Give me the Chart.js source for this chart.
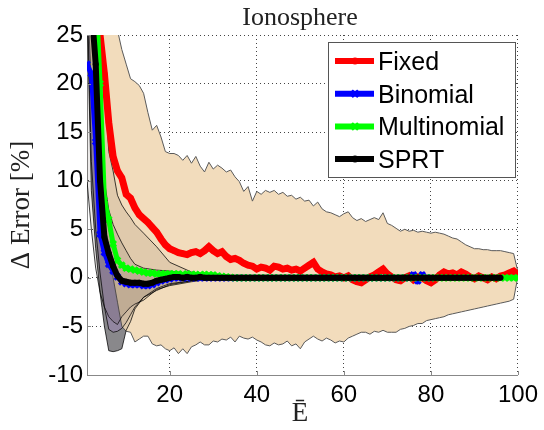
<!DOCTYPE html>
<html>
<head>
<meta charset="utf-8">
<script src="https://cdn.jsdelivr.net/npm/chart.js@4.4.1/dist/chart.umd.min.js"></script>
<style>
  html, body { margin: 0; padding: 0; background: #fff; }
  #wrap { width: 544px; height: 430px; }
</style>
</head>
<body>
<div id="wrap"><canvas id="chart" width="544" height="430"></canvas></div>
<script>
// Ionosphere: Delta Error [%] against mean number of evaluated members (E bar)

const chartTitle = 'Ionosphere';
const xTitle = 'Ē';
const yTitle = 'Δ Error [%]';
const xTicks = [20, 40, 60, 80, 100];
const yTicks = [-10, -5, 0, 5, 10, 15, 20, 25];
const seriesNames = ['Fixed', 'Binomial', 'Multinomial', 'SPRT'];

// E = 1 .. 100
const E = Array.from({ length: 100 }, (_, i) => i + 1);

const fixed = [
  48, 38, 30, 25, 21, 16, 12.5, 11, 10.3, 8.6,
  8.2, 7.2, 6.5, 6.1, 5.7, 5.2, 4.7, 4.0, 3.4, 3.0,
  2.8, 2.6, 2.5, 2.4, 2.6, 2.7, 2.5, 2.8, 3.2, 2.8,
  2.5, 2.7, 2.2, 1.9, 2.0, 1.8, 1.5, 1.3, 1.2, 0.9,
  1.1, 1.0, 0.8, 1.2, 1.1, 0.9, 1.0, 0.8, 0.9, 0.7,
  1.0, 1.3, 1.6, 0.9, 0.6, 0.4, 0.3, 0.1, 0.2, 0.0,
  0.2, -0.2, -0.4, -0.5, -0.2, 0.1, 0.3, 0.6, 0.9, 0.4,
  0.1, -0.2, -0.3, 0.0, 0.2, -0.2, 0.1, 0.0, -0.3, -0.5,
  -0.2, 0.3, 0.6, 0.4, 0.5, 0.3, 0.6, 0.4, 0.1, -0.1,
  0.2, 0.0, -0.2, 0.1, -0.1, 0.2, 0.3, 0.5, 0.7, 0.3
];
const fixedUpper = [
  60, 55, 48, 42, 36, 31, 27.5, 25.5, 23.5, 22,
  20.5, 20.2, 19.8, 19, 17, 15.2, 15.7, 14.5, 13, 12.8,
  12.8, 12.6, 12.1, 12.6, 11.8, 12.5, 11.5, 10.9, 11.9, 11.2,
  11.6, 11.3, 10.9, 11.1, 10.4, 9.9, 8.9, 9.4, 7.9, 8.9,
  8.6, 9.0, 8.8, 9.0, 8.6, 8.8, 8.4, 8.5, 8.1, 8.3,
  7.9, 8.0, 7.4, 7.8, 7.1, 6.8, 6.7, 6.5, 6.3, 6.6,
  6.8, 6.2, 5.9, 6.1, 5.8, 6.0, 6.2, 6.0, 6.7, 5.6,
  5.4, 5.1, 4.8, 5.0, 4.8, 4.9, 4.7, 4.8, 4.7, 4.6,
  4.7, 4.6, 4.5, 4.3, 4.1, 4.0, 3.7, 3.4, 3.2, 3.0,
  3.0, 2.9, 2.9, 2.8, 2.8, 2.8, 2.7, 2.6, 2.5, 0.6
];
const fixedLower = [
  30, 20, 13, 9, 5, 2.5, 0, -2.5, -5.0, -5.5,
  -5.6, -6.6, -6.3, -6.0, -6.0, -6.8, -7.0, -6.9, -7.3, -7.5,
  -7.2, -7.8, -7.3, -7.8, -7.1, -6.9, -6.6, -6.9, -6.9, -6.5,
  -6.6, -6.3, -6.4, -6.1, -6.6, -6.0, -6.2, -6.3, -6.1, -6.4,
  -6.6, -6.9, -7.0, -6.7, -6.9, -6.8, -6.5, -7.0, -6.8, -7.3,
  -6.6, -6.3, -6.0, -6.3, -6.5, -6.2, -6.4, -6.7, -6.5, -6.6,
  -6.2, -6.0, -5.8, -5.6, -5.6, -5.8, -5.5, -5.6, -5.4, -5.6,
  -5.6, -5.6, -5.3, -5.2, -5.0, -4.9, -4.7, -4.7, -4.4, -4.3,
  -4.2, -4.1, -4.0, -3.8, -3.7, -3.6, -3.5, -3.4, -3.3, -3.2,
  -3.1, -3.0, -2.9, -2.8, -2.7, -2.6, -2.5, -2.4, -2.2, 0.2
];

// E = 1 .. 80
const binomial = [
  22, 21, 14, 4.5, 2.6, 1.4, 0.7, 0.1, -0.4, -0.6,
  -0.7, -0.7, -0.7, -0.8, -0.8, -0.7, -0.5, -0.3, -0.2, -0.1,
  0, 0, 0, 0, 0, 0, 0, 0, 0, 0,
  0, 0, 0, 0, 0, 0, 0, 0, 0, 0,
  0, 0, 0, 0, 0, 0, 0, 0, 0, 0,
  0, 0, 0, 0, 0, 0, 0, 0, 0, 0,
  0, 0, 0, 0, 0, 0, 0, 0, 0, 0,
  0, 0, 0, 0, 0, 0.3, -0.3, 0.3, 0, 0
];

// E = 1 .. 100
const multinomial = [
  40, 33, 30, 20, 8, 6, 3.5, 1.8, 1.3, 1.0,
  0.9, 0.8, 0.7, 0.6, 0.5, 0.5, 0.4, 0.4, 0.4, 0.4,
  0.4, 0.4, 0.35, 0.4, 0.35, 0.35, 0.3, 0.35, 0.3, 0.3,
  0.2, 0.15, 0.1, 0.05, 0, 0, 0, 0, 0, 0,
  0, 0, 0, 0, 0, 0, 0, 0, 0, 0,
  0, 0, 0, 0, 0, 0, 0, 0, 0, 0,
  0, 0, 0, 0, 0, 0, 0, 0, 0, 0,
  0, 0, 0, 0, 0, 0, 0, 0, 0, 0,
  0, 0, 0, 0, 0, 0, 0, 0, 0, 0,
  0, 0, 0, 0, 0, 0, 0, 0, 0, 0
];

// E = 1 .. 96
const sprt = [
  40, 28, 22, 10, 4.2, 2.5, 1.2, 0.2, -0.3, -0.4,
  -0.5, -0.5, -0.5, -0.6, -0.6, -0.5, -0.3, -0.2, -0.1, 0,
  0.1, 0.1, 0, 0.1, 0, 0, 0.1, 0, 0, 0,
  0, 0, 0, 0, 0, 0, 0, 0, 0, 0,
  0, 0, 0, 0, 0, 0, 0, 0, 0, 0,
  0, 0, 0, 0, 0, 0, 0, 0, 0, 0,
  0, 0, 0, 0, 0, 0, 0, 0, 0, 0,
  0, 0, 0, 0, 0, 0, 0, 0, 0, 0,
  0, 0, 0, 0, 0, 0, 0, 0, 0, 0,
  0, 0, 0, 0, 0, 0
];

// spread bands of the adaptive methods (short range only)
const bandE = [1, 2, 3, 4, 5, 6, 7, 8, 9, 10, 11, 12, 14, 17, 20, 25, 30];
const sprtUpper = [45, 38, 30, 20, 10, 7, 5.5, 4.5, 3.6, 2.8, 2.0, 1.4, 1.0, 0.8, 0.7, 0.4, 0.1];
const sprtLower = [28, 9, 3, -1.5, -5, -7.5, -7.6, -7.5, -7.3, -5.4, -4.5, -3.2, -2, -1.1, -0.6, -0.3, 0];
const binomialUpper = [44, 36, 28, 18, 9, 5, 3, 2, 1.5, 1.1, 0.9, 0.7, 0.5, 0.4, 0.3, 0.1, 0];
const binomialLower = [30, 12, 5, 0.5, -3, -5.3, -5.6, -5.5, -5.2, -4.6, -3.8, -3, -2, -1.3, -0.7, -0.3, 0];
const multinomialUpper = [50, 42, 35, 28, 20, 13, 11, 8.5, 7.5, 6.8, 6.2, 5.5, 4.6, 3.2, 1.6, 0.6, 0.3];
const multinomialLower = [10, 5, 1, -1.5, -3, -4.0, -4.5, -4.8, -4.0, -3.5, -3.0, -2.7, -2.3, -1.2, -0.8, -0.4, -0.1];

const pts = (xs, ys) => ys.map((y, i) => ({ x: xs[i], y: y }));

// upper + lower dataset pair, filled in between
function band(xs, up, lo, fill, edge, order) {
  const common = {
    type: 'line', pointRadius: 0, borderWidth: edge ? 1 : 0,
    borderColor: edge || 'rgba(0,0,0,0)', tension: 0
  };
  return [
    Object.assign({}, common, { label: '', data: pts(xs, up), fill: '+1', backgroundColor: fill, order: order }),
    Object.assign({}, common, { label: '', data: pts(xs, lo), fill: false, order: order - 1 })
  ];
}

function series(label, ys, color, style, radius, width, order) {
  return {
    type: 'line', label: label, data: pts(E, ys), fill: false,
    borderColor: color, backgroundColor: color, borderWidth: width,
    pointStyle: style, pointRadius: radius, pointBorderWidth: style === 'crossRot' ? 3 : 0,
    pointBorderColor: color, pointBackgroundColor: color, tension: 0, order: order
  };
}

const edgeDark = 'rgba(0,0,0,0.75)';
const datasets = [].concat(
  band(bandE, sprtUpper, sprtLower, 'rgb(146,146,150)', null, 40),
  band(bandE, binomialUpper, binomialLower, 'rgb(166,155,186)', null, 38),
  band(E, fixedUpper, fixedLower, 'rgb(242,220,188)', 'rgb(90,90,90)', 30),
  band(bandE, multinomialUpper, multinomialLower, 'rgba(70,45,40,0.1)', edgeDark, 20),
  band(bandE, binomialUpper, binomialLower, 'rgba(70,45,60,0.1)', edgeDark, 18),
  band(bandE, sprtUpper, sprtLower, 'rgba(60,50,50,0.1)', edgeDark, 16),
  [
    series('Fixed', fixed, '#ff0000', 'circle', 3, 7, 4),
    series('Binomial', binomial, '#0000ff', 'crossRot', 4, 5, 3),
    series('Multinomial', multinomial, '#00ff00', 'crossRot', 4, 5, 2),
    series('SPRT', sprt, '#000000', 'circle', 3, 6, 1)
  ]
);

const textPlugin = {
  id: 'texts',
  afterDraw(chart) {
    const ctx = chart.ctx;
    const area = chart.chartArea;
    ctx.save();
    // MATLAB style inward tick marks
    ctx.strokeStyle = '#888';
    ctx.lineWidth = 1;
    ctx.beginPath();
    xTicks.forEach(v => {
      const px = Math.round(chart.scales.x.getPixelForValue(v)) + 0.5;
      ctx.moveTo(px, area.bottom); ctx.lineTo(px, area.bottom - 4);
    });
    yTicks.forEach(v => {
      const py = Math.round(chart.scales.y.getPixelForValue(v)) + 0.5;
      ctx.moveTo(area.left, py); ctx.lineTo(area.left + 4, py);
    });
    ctx.stroke();

    ctx.fillStyle = '#222';
    ctx.textAlign = 'center';
    ctx.textBaseline = 'alphabetic';
    ctx.font = '26px "Liberation Serif", "Times New Roman", serif';
    ctx.fillText(chartTitle, 300, 25);
    ctx.font = '27px "Liberation Serif", "Times New Roman", serif';
    ctx.fillText(xTitle, 300, 421);
    ctx.translate(22, 205);
    ctx.rotate(-Math.PI / 2);
    ctx.textBaseline = 'middle';
    ctx.fillText(yTitle, 0, 0);
    ctx.restore();
  }
};

const legendPlugin = {
  id: 'boxLegend',
  afterDraw(chart) {
    const ctx = chart.ctx;
    const items = chart.data.datasets.filter(d => seriesNames.includes(d.label));
    ctx.save();
    ctx.fillStyle = '#fff';
    ctx.strokeStyle = '#555';
    ctx.lineWidth = 1;
    ctx.fillRect(328.5, 42.5, 187, 135);
    ctx.strokeRect(328.5, 42.5, 187, 135);
    items.forEach((d, i) => {
      const y = 61 + i * 32.7;
      ctx.strokeStyle = d.borderColor;
      ctx.fillStyle = d.borderColor;
      ctx.lineWidth = 6;
      ctx.beginPath();
      ctx.moveTo(335, y);
      ctx.lineTo(374, y);
      ctx.stroke();
      ctx.lineWidth = d.pointBorderWidth || 1;
      Chart.helpers.drawPoint(ctx, {
        pointStyle: d.pointStyle, radius: d.pointRadius + 0.5,
        borderWidth: d.pointBorderWidth, rotation: 0
      }, 355, y);
      ctx.fillStyle = '#000';
      ctx.font = '25px "Liberation Sans", Arial, sans-serif';
      ctx.textAlign = 'left';
      ctx.textBaseline = 'alphabetic';
      ctx.fillText(d.label, 378, y + 9);
    });
    ctx.restore();
  }
};

const tickFont = { family: '"Liberation Sans", Arial, sans-serif', size: 24 };

new Chart(document.getElementById('chart'), {
  type: 'line',
  data: { datasets: datasets },
  options: {
    responsive: false,
    devicePixelRatio: 1,
    animation: false,
    layout: { padding: { top: 35, right: 24, bottom: 0, left: 0 } },
    plugins: {
      legend: { display: false },
      tooltip: { enabled: false },
      title: { display: false }
    },
    scales: {
      x: {
        type: 'linear', min: 1, max: 100,
        afterBuildTicks: s => { s.ticks = xTicks.map(v => ({ value: v })); },
        afterFit: s => { s.height = 55; },
        grid: { color: '#444', lineWidth: 1, drawTicks: false },
        border: { color: '#888', width: 1, dash: [1, 3] },
        ticks: { font: tickFont, color: '#000', padding: 6, maxRotation: 0, autoSkip: false }
      },
      y: {
        type: 'linear', min: -10, max: 25,
        afterBuildTicks: s => { s.ticks = yTicks.map(v => ({ value: v })); },
        afterFit: s => { s.width = 87; },
        grid: { color: '#444', lineWidth: 1, drawTicks: false },
        border: { color: '#888', width: 1, dash: [1, 3] },
        ticks: { font: tickFont, color: '#000', padding: 4, autoSkip: false }
      }
    }
  },
  plugins: [textPlugin, legendPlugin]
});
</script>
</body>
</html>
